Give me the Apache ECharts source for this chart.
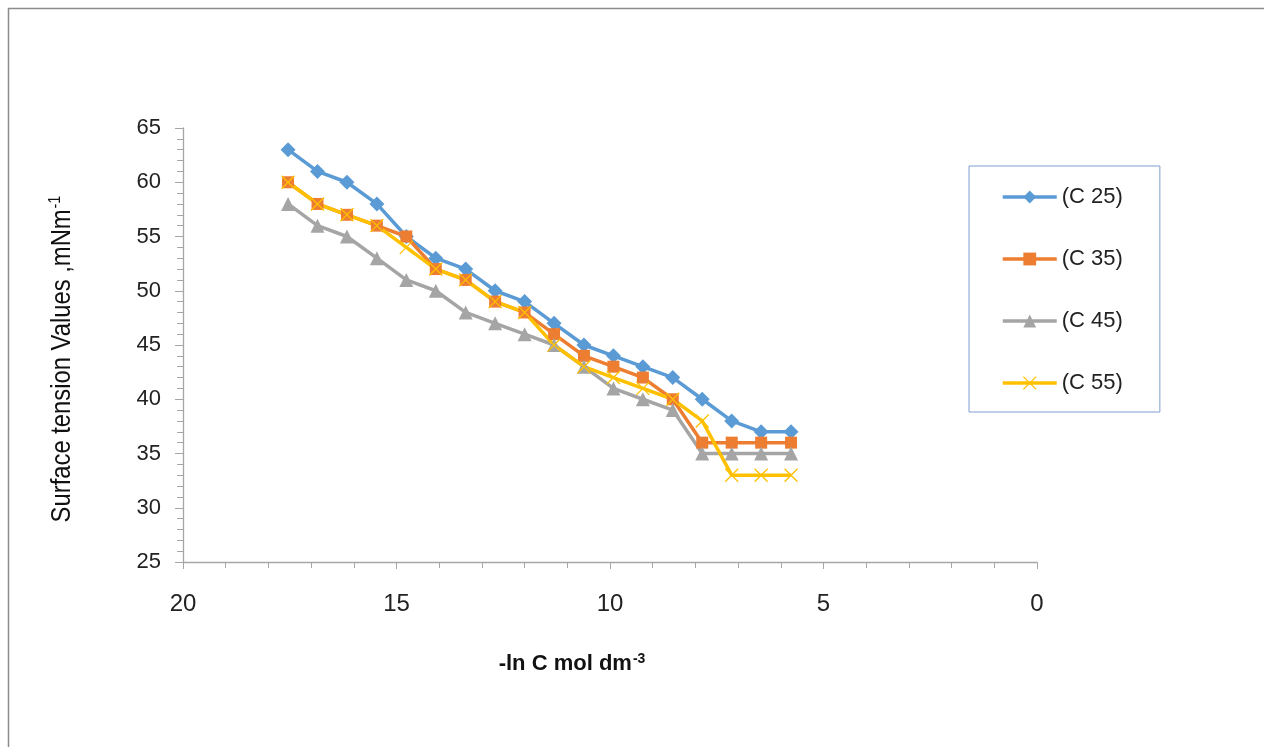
<!DOCTYPE html>
<html>
<head>
<meta charset="utf-8">
<script src="https://cdn.jsdelivr.net/npm/echarts@6/dist/echarts.min.js"></script>
<style>
html,body{margin:0;padding:0;background:#fff;}
#chart{width:1264px;height:747px;}
</style>
</head>
<body>
<div id="chart"></div>
<script>
// -ln C values (x)
const lnC = [17.54, 16.85, 16.16, 15.46, 14.77, 14.08, 13.38, 12.69, 12.00, 11.31, 10.61, 9.92, 9.23, 8.53, 7.84, 7.15, 6.46, 5.76];
const seriesNames = ['(C 25)', '(C 35)', '(C 45)', '(C 55)'];
const c25 = [63, 61, 60, 58, 55, 53, 52, 50, 49, 47, 45, 44, 43, 42, 40, 38, 37, 37];
const c35 = [60, 58, 57, 56, 55, 52, 51, 49, 48, 46, 44, 43, 42, 40, 36, 36, 36, 36];
const c45 = [58, 56, 55, 53, 51, 50, 48, 47, 46, 45, 43, 41, 40, 39, 35, 35, 35, 35];
const c55 = [60, 58, 57, 56, 54, 52, 51, 49, 48, 45, 43, 42, 41, 40, 38, 33, 33, 33];
const yTicks = [25, 30, 35, 40, 45, 50, 55, 60, 65];
const xTicks = [0, 5, 10, 15, 20];
const yTitle = 'Surface tension Values ,mNm';
const yTitleSup = '-1';
const xTitle = '-ln C mol dm';
const xTitleSup = '-3';

const colors = ['#5b9bd5', '#ed7d31', '#a5a5a5', '#ffc000'];
const symbols = ['diamond', 'rect', 'triangle', 'path://M0,0L10,10M10,0L0,10'];
const sizes = [15, 12, 14, 13];
const allData = [c25, c35, c45, c55];
const FONT = 'Liberation Sans, Arial, sans-serif';

function itemStyleFor(i) {
  return i === 3 ? {color: 'rgba(0,0,0,0)', borderColor: colors[i], borderWidth: 1.3} : {color: colors[i], borderWidth: 0};
}

const series = allData.map((vals, i) => ({
  name: seriesNames[i],
  type: 'line',
  data: vals.map((v, j) => [lnC[j], v]),
  symbol: symbols[i],
  symbolSize: sizes[i],
  showAllSymbol: true,
  lineStyle: {color: colors[i], width: 3.5},
  itemStyle: itemStyleFor(i),
  emphasis: {disabled: true},
  animation: false
}));

const chart = echarts.init(document.getElementById('chart'), null, {renderer: 'canvas'});
chart.setOption({
  backgroundColor: '#fff',
  animation: false,
  graphic: [{
    type: 'rect', silent: true,
    shape: {x: 8.5, y: 8.5, width: 1400, height: 900},
    style: {fill: 'none', stroke: '#8c8c8c', lineWidth: 1.5}
  }, {
    type: 'text', silent: true,
    x: 62, y: 359, rotation: Math.PI / 2, scaleX: 0.85,
    style: {
      text: '{a|' + yTitle + '}{s|' + yTitleSup + '}',
      align: 'center', verticalAlign: 'middle',
      rich: {
        a: {fontFamily: FONT, fontSize: 28, fill: '#111'},
        s: {fontFamily: FONT, fontSize: 17, fill: '#111', verticalAlign: 'top', padding: [0, 0, 14, 1]}
      }
    }
  }],
  grid: {left: 183, right: 227, top: 128, bottom: 185, containLabel: false},
  legend: {
    orient: 'vertical',
    left: 969, top: 166,
    padding: [20, 37, 18, 32],
    itemWidth: 54, itemHeight: 16, itemGap: 40,
    borderColor: '#7f9fcf', borderWidth: 1,
    textStyle: {fontFamily: FONT, fontSize: 22, color: '#222'},
    data: seriesNames.map((n, i) => ({name: n, itemStyle: itemStyleFor(i), lineStyle: {color: colors[i], width: 3.5}}))
  },
  xAxis: {
    type: 'value', inverse: true, min: 0, max: 20, interval: 5,
    name: '{a|' + xTitle + '}{s|' + xTitleSup + '}',
    nameLocation: 'middle', nameGap: 90,
    nameTextStyle: {
      padding: [0, 76, 0, 0],
      rich: {
        a: {fontFamily: FONT, fontSize: 22, fontWeight: 'bold', color: '#111'},
        s: {fontFamily: FONT, fontSize: 14, fontWeight: 'bold', color: '#111', verticalAlign: 'top', padding: [0, 0, 10, 1]}
      }
    },
    axisLine: {onZero: false, lineStyle: {color: '#a6a6a6', width: 1.3}},
    axisTick: {show: true, length: 7, lineStyle: {color: '#a6a6a6'}},
    minorTick: {show: true, splitNumber: 5, length: 6, lineStyle: {color: '#a6a6a6'}},
    splitLine: {show: false},
    axisLabel: {
      margin: 30, fontFamily: FONT, fontSize: 24, color: '#222',
      formatter: v => xTicks.includes(v) ? String(v) : ''
    }
  },
  yAxis: {
    type: 'value', min: 25, max: 65, interval: 5, position: 'left',
    axisLine: {show: true, onZero: false, lineStyle: {color: '#a6a6a6', width: 1.3}},
    axisTick: {show: true, length: 8, lineStyle: {color: '#a6a6a6'}},
    minorTick: {show: true, splitNumber: 5, length: 6, lineStyle: {color: '#a6a6a6'}},
    splitLine: {show: false},
    axisLabel: {
      margin: 22, fontFamily: FONT, fontSize: 22, color: '#222',
      formatter: v => yTicks.includes(v) ? String(v) : ''
    }
  },
  series: series
});
</script>
</body>
</html>
